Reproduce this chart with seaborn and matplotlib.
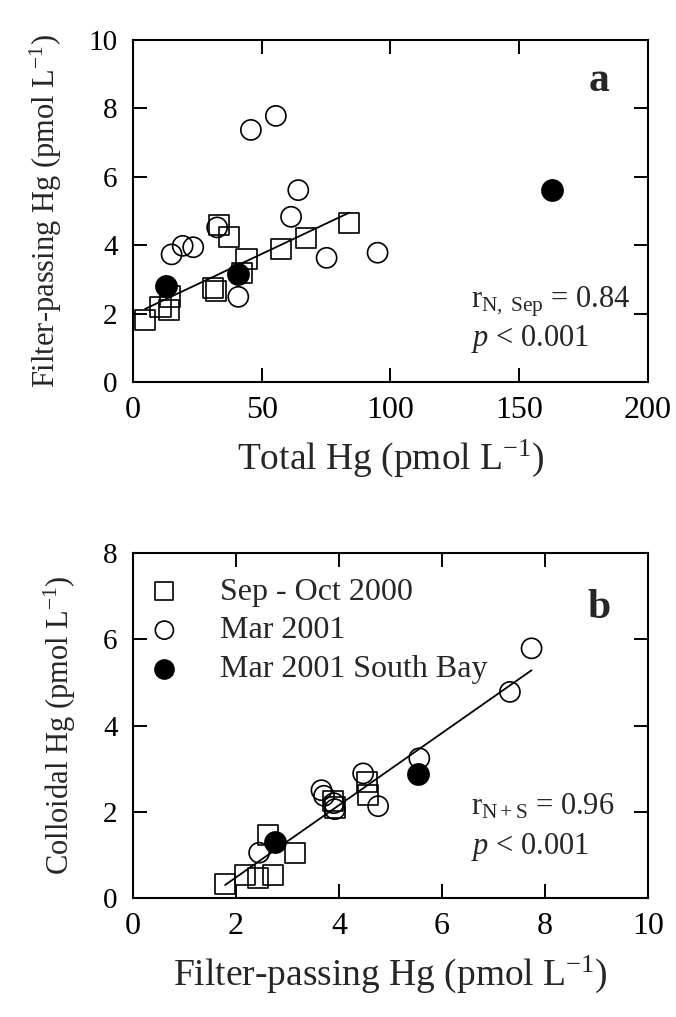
import numpy as np
import pandas as pd
import matplotlib
matplotlib.use("Agg")
import matplotlib.pyplot as plt
import seaborn as sns

# ---------------- data ----------------
# Panel a: Total Hg (x) vs Filter-passing Hg (y)
a_sep_x = [4.7, 10.7, 14.1, 14.5, 31.0, 32.2, 33.5, 37.4, 42.2, 44.1, 57.4, 67.2, 84.0]
a_sep_y = [1.81, 2.20, 2.10, 2.50, 2.74, 2.67, 4.59, 4.25, 3.18, 3.59, 3.90, 4.22, 4.64]
a_mar_x = [15.0, 19.3, 23.4, 32.7, 40.9, 45.8, 55.5, 61.4, 64.2, 75.2, 95.0]
a_mar_y = [3.73, 3.98, 3.94, 4.52, 2.49, 7.37, 7.78, 4.83, 5.61, 3.63, 3.78]
a_sb_x = [12.8, 40.9, 162.7]
a_sb_y = [2.81, 3.16, 5.61]

# Panel b: Filter-passing Hg (x) vs Colloidal Hg (y)
b_sep_x = [1.79, 2.17, 2.43, 2.72, 2.63, 3.15, 3.88, 3.92, 4.54, 4.57]
b_sep_y = [0.32, 0.53, 0.46, 0.53, 1.46, 1.05, 2.25, 2.10, 2.70, 2.39]
b_mar_x = [2.45, 3.66, 3.71, 3.90, 3.92, 4.47, 4.76, 5.56, 7.32, 7.74]
b_mar_y = [1.05, 2.50, 2.37, 2.20, 2.06, 2.89, 2.13, 3.24, 4.78, 5.79]
b_sb_x = [2.76, 5.53]
b_sb_y = [1.31, 2.88]

series_labels = ["Sep - Oct 2000", "Mar 2001", "Mar 2001 South Bay"]

# ---------------- style ----------------
sns.set_theme(style="ticks")
plt.rcParams["font.family"] = ["Liberation Serif", "DejaVu Serif"]
plt.rcParams["mathtext.fontset"] = "custom"
plt.rcParams["mathtext.rm"] = "Liberation Serif"
plt.rcParams["mathtext.it"] = "Liberation Serif:italic"
plt.rcParams["mathtext.bf"] = "Liberation Serif:bold"

fig = plt.figure(figsize=(6.76, 10.17), dpi=100)
ax_a = fig.add_axes([0.1967, 0.6244, 0.7618, 0.3363])
ax_b = fig.add_axes([0.1967, 0.1170, 0.7618, 0.3392])

MS = 14.5
S = MS ** 2
EW = 1.2

def draw(ax, sx, sy, mx, my, fx, fy, fitx, fity):
    df_s = pd.DataFrame({"x": sx, "y": sy})
    df_m = pd.DataFrame({"x": mx, "y": my})
    df_f = pd.DataFrame({"x": fx, "y": fy})
    sns.regplot(data=pd.DataFrame({"x": fitx, "y": fity}), x="x", y="y", ax=ax,
                scatter=False, ci=None, truncate=True,
                line_kws=dict(color="black", lw=1.3, zorder=5))
    sns.scatterplot(data=df_s, x="x", y="y", ax=ax, marker="s", s=S,
                    facecolor="none", edgecolor="black", linewidth=EW,
                    label=series_labels[0], zorder=3)
    sns.scatterplot(data=df_m, x="x", y="y", ax=ax, marker="o", s=S,
                    facecolor="none", edgecolor="black", linewidth=EW,
                    label=series_labels[1], zorder=3)
    sns.scatterplot(data=df_f, x="x", y="y", ax=ax, marker="o", s=S * 1.1,
                    color="black", edgecolor="black", linewidth=EW,
                    label=series_labels[2], zorder=4)

draw(ax_a, a_sep_x, a_sep_y, a_mar_x, a_mar_y, a_sb_x, a_sb_y, a_sep_x, a_sep_y)
draw(ax_b, b_sep_x, b_sep_y, b_mar_x, b_mar_y, b_sb_x, b_sb_y,
     b_sep_x + b_mar_x + b_sb_x, b_sep_y + b_mar_y + b_sb_y)

XTICK_FS = 23
YTICK_FS = 21
XLAB_FS = 27
YLAB_FS = 22

for ax in (ax_a, ax_b):
    for sp in ax.spines.values():
        sp.set_visible(True)
        sp.set_linewidth(1.5)
        sp.set_color("black")
    ax.tick_params(direction="in", length=10, width=1.4, top=True, right=True,
                   colors="black")
    ax.tick_params(axis="x", labelsize=XTICK_FS, pad=10)
    ax.tick_params(axis="y", labelsize=YTICK_FS, pad=11)

ax_a.set_xlim(0, 200)
ax_a.set_ylim(0, 10)
ax_a.set_xticks([0, 50, 100, 150, 200])
ax_a.set_yticks([0, 2, 4, 6, 8, 10])
ax_a.set_xlabel("Total Hg (pmol L$^{-1}$)", fontsize=XLAB_FS, labelpad=9)
ax_a.set_ylabel("Filter-passing Hg (pmol L$^{-1}$)", fontsize=YLAB_FS, labelpad=18)
ax_a.legend_.remove()
ax_a.text(0.905, 0.88, "a", transform=ax_a.transAxes, fontsize=30,
          fontweight="bold", ha="center", va="center")
ax_a.text(0.656, 0.235, r"r$_{\rm N,\ Sep}$ = 0.84", transform=ax_a.transAxes,
          fontsize=22, ha="left", va="center")
ax_a.text(0.656, 0.125, r"$p$ < 0.001", transform=ax_a.transAxes,
          fontsize=22, ha="left", va="center")

ax_b.set_xlim(0, 10)
ax_b.set_ylim(0, 8)
ax_b.set_xticks([0, 2, 4, 6, 8, 10])
ax_b.set_yticks([0, 2, 4, 6, 8])
ax_b.set_xlabel("Filter-passing Hg (pmol L$^{-1}$)", fontsize=XLAB_FS, labelpad=9)
ax_b.set_ylabel("Colloidal Hg (pmol L$^{-1}$)", fontsize=YLAB_FS, labelpad=18)
ax_b.text(0.905, 0.84, "b", transform=ax_b.transAxes, fontsize=30,
          fontweight="bold", ha="center", va="center")
ax_b.text(0.656, 0.265, r"r$_{\rm N+S}$ = 0.96", transform=ax_b.transAxes,
          fontsize=22, ha="left", va="center")
ax_b.text(0.656, 0.148, r"$p$ < 0.001", transform=ax_b.transAxes,
          fontsize=22, ha="left", va="center")
leg = ax_b.legend(loc="upper left", frameon=False, fontsize=23,
                  markerscale=0.9, handletextpad=1.25, labelspacing=0.3,
                  handlelength=1.0, borderaxespad=0.0, borderpad=0.0,
                  bbox_to_anchor=(0.03, 0.93))

fig.savefig("out.png", dpi=100)
